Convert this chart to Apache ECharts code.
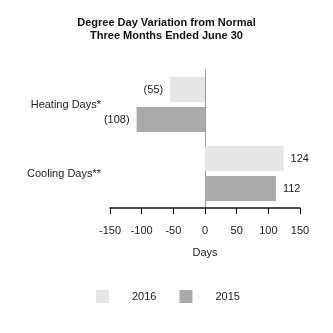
<!DOCTYPE html>
<html>
<head>
<meta charset="utf-8">
<script src="https://cdn.jsdelivr.net/npm/echarts@6/dist/echarts.min.js"></script>
<style>
  html, body { margin: 0; padding: 0; background: #fff; }
  #chart { width: 333px; height: 333px; }
</style>
</head>
<body>
<div id="chart"></div>
<script>
// Degree day variation data
const categories = ['Heating Days*', 'Cooling Days**'];
const values2016 = [-55, 124];
const values2015 = [-108, 112];
const xTicks = { min: -150, max: 150, interval: 50 };

const fmt = v => (v < 0 ? '(' + Math.abs(v) + ')' : String(v));

const labelFor = {
  show: true,
  color: '#222',
  fontSize: 11,
  fontFamily: 'Liberation Sans, Arial, sans-serif',
  distance: 7,
  formatter: p => fmt(p.value)
};

function barData(vals) {
  return vals.map(v => ({
    value: v,
    label: { position: v < 0 ? 'left' : 'right' }
  }));
}

const chart = echarts.init(document.getElementById('chart'));
chart.setOption({
  animation: false,
  textStyle: { fontFamily: 'Liberation Sans, Arial, sans-serif' },
  title: {
    text: 'Degree Day Variation from Normal\nThree Months Ended June 30',
    left: 'center',
    top: 16,
    padding: 0,
    textStyle: { fontSize: 11, fontWeight: 'bold', color: '#111', lineHeight: 13 }
  },
  legend: {
    bottom: 30,
    left: 96,
    padding: 0,
    itemWidth: 13,
    itemHeight: 13,
    itemGap: 23,
    icon: 'rect',
    textStyle: { fontSize: 11, color: '#222', padding: [0, 0, 0, 18] },
    data: ['2016', '2015']
  },
  grid: { left: 110, width: 190, top: 70, height: 138, containLabel: false },
  xAxis: {
    type: 'value',
    min: xTicks.min,
    max: xTicks.max,
    interval: xTicks.interval,
    name: 'Days',
    nameLocation: 'middle',
    nameGap: 39,
    nameTextStyle: { fontSize: 11, color: '#222' },
    splitLine: { show: false },
    axisLine: { show: true, lineStyle: { color: '#111', width: 1.5 } },
    axisTick: { show: true, length: 6, lineStyle: { color: '#111', width: 1 } },
    axisLabel: { fontSize: 11, color: '#222', margin: 17 }
  },
  yAxis: {
    type: 'category',
    inverse: true,
    data: categories,
    axisLine: { show: true, onZero: true, lineStyle: { color: '#999', width: 1 } },
    axisTick: { show: false },
    axisLabel: { fontSize: 11, color: '#222', margin: 9 }
  },
  series: [
    {
      name: '2016',
      type: 'bar',
      barWidth: 25,
      barGap: '20%',
      itemStyle: { color: '#e6e6e6' },
      label: labelFor,
      data: barData(values2016)
    },
    {
      name: '2015',
      type: 'bar',
      barWidth: 25,
      barGap: '20%',
      itemStyle: { color: '#aaaaaa' },
      label: labelFor,
      data: barData(values2015)
    }
  ]
});
</script>
</body>
</html>
